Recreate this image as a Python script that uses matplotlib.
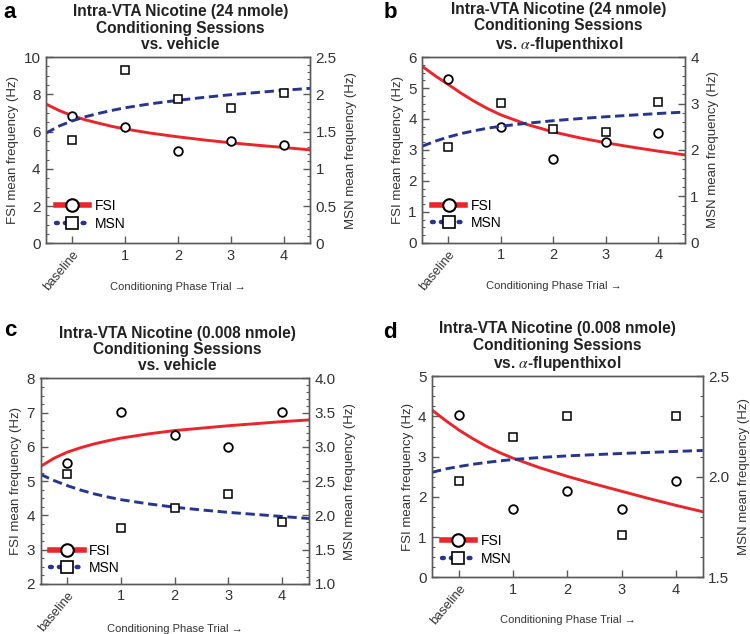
import matplotlib
matplotlib.use("Agg")
import matplotlib.pyplot as plt
from matplotlib.lines import Line2D
from matplotlib.ticker import AutoMinorLocator

plt.rcParams['font.family'] = ['Liberation Sans', 'DejaVu Sans']
plt.rcParams['mathtext.fontset'] = 'stix'

# trial positions and labels
trial_x = [0, 1, 2, 3, 4]
trial_labels = ['baseline', '1', '2', '3', '4']
fit_x = [-0.5, -0.25, 0, 0.25, 0.5, 0.75, 1, 1.5, 2, 2.5, 3, 3.5, 4, 4.5]

# panel a: 24 nmole vs. vehicle
a_fsi = [6.83, 6.27, 4.97, 5.50, 5.28]
a_msn = [1.39, 2.32, 1.94, 1.82, 2.02]
a_fsi_fit = [7.48, 7.13, 6.85, 6.63, 6.45, 6.28, 6.14, 5.91, 5.72, 5.55, 5.40, 5.27, 5.15, 5.02]
a_msn_fit = [1.48, 1.575, 1.645, 1.70, 1.745, 1.785, 1.82, 1.875, 1.92, 1.96, 1.995, 2.025, 2.055, 2.08]

# panel b: 24 nmole vs. alpha-flupenthixol
b_fsi = [5.28, 3.75, 2.71, 3.25, 3.56]
b_msn = [2.06, 3.02, 2.45, 2.39, 3.03]
b_fsi_fit = [5.70, 5.39, 5.11, 4.82, 4.56, 4.33, 4.13, 3.82, 3.58, 3.39, 3.23, 3.09, 2.96, 2.84]
b_msn_fit = [2.08, 2.19, 2.28, 2.355, 2.415, 2.47, 2.51, 2.575, 2.63, 2.675, 2.715, 2.75, 2.785, 2.815]

# panel c: 0.008 nmole vs. vehicle
c_fsi = [5.53, 7.01, 6.36, 5.99, 7.01]
c_msn = [2.61, 1.82, 2.11, 2.31, 1.90]
c_fsi_fit = [5.43, 5.67, 5.85, 5.98, 6.09, 6.18, 6.26, 6.38, 6.48, 6.55, 6.62, 6.68, 6.74, 6.79]
c_msn_fit = [2.60, 2.51, 2.435, 2.37, 2.315, 2.27, 2.23, 2.17, 2.12, 2.08, 2.045, 2.015, 1.985, 1.955]

# panel d: 0.008 nmole vs. alpha-flupenthixol
d_fsi = [4.04, 1.71, 2.15, 1.71, 2.40]
d_msn = [1.98, 2.20, 2.30, 1.71, 2.30]
d_fsi_fit = [4.16, 3.90, 3.66, 3.45, 3.26, 3.10, 2.96, 2.72, 2.51, 2.32, 2.14, 1.96, 1.79, 1.63]
d_msn_fit = [2.022, 2.039, 2.051, 2.062, 2.071, 2.079, 2.086, 2.096, 2.104, 2.110, 2.116, 2.121, 2.126, 2.131]

RED = '#e8262b'
BLUE = '#27358f'
SPINE = '#5a5a5a'
TXT = '#333333'


def draw_panel(rect, letter, letter_xy, title, title_x, fsi, msn, fsi_fit, msn_fit,
               ylim_l, yt_l, ylim_r, yt_r, yt_r_lbl, xlab_y, leg_y):
    ax = fig.add_axes(rect)
    ax2 = ax.twinx()

    ax.plot(fit_x, fsi_fit, color=RED, lw=2.1, zorder=2)
    ax.plot(trial_x, fsi, 'o', ms=6.2, mfc='white', mec='black', mew=1.3, zorder=3)
    ax2.plot(fit_x, msn_fit, color=BLUE, lw=2.1, ls=(0, (3.2, 1.6)), zorder=2)
    ax2.plot(trial_x, msn, 's', ms=6, mfc='white', mec='black', mew=1.1, zorder=3)

    ax.set_xlim(-0.5, 4.5)
    ax.set_ylim(*ylim_l)
    ax.set_yticks(yt_l)
    ax2.set_ylim(*ylim_r)
    ax2.set_yticks(yt_r)
    ax2.set_yticklabels(yt_r_lbl)
    ax.set_xticks(trial_x)
    ax.set_xticklabels(trial_labels)

    ax.yaxis.set_minor_locator(AutoMinorLocator(4))
    ax2.yaxis.set_minor_locator(AutoMinorLocator(5))

    for a in (ax, ax2):
        for s in a.spines.values():
            s.set_color(SPINE)
            s.set_linewidth(1.0)
        a.tick_params(which='major', direction='in', length=5, width=1.0,
                      color=SPINE, labelsize=11, labelcolor=TXT, pad=4)
        a.tick_params(which='minor', direction='in', length=2.5, width=0.8,
                      color=SPINE)
    ax.tick_params(axis='x', pad=4)

    lbls = ax.get_xticklabels()
    lbls[0].set_rotation(50)
    lbls[0].set_ha('right')
    lbls[0].set_va('top')
    lbls[0].set_rotation_mode('anchor')
    lbls[0].set_fontsize(9.3)
    for t in lbls[1:]:
        t.set_fontsize(10.5)

    ax.set_ylabel('FSI mean frequency (Hz)', fontsize=9.5, color=TXT, labelpad=3)
    ax2.set_ylabel('MSN mean frequency (Hz)', fontsize=9.5, color=TXT,
                   rotation=90, labelpad=6)
    ax.set_xlabel('Conditioning Phase Trial →', fontsize=8, color=TXT,
                  family=['Liberation Sans Narrow', 'Liberation Sans', 'DejaVu Sans'])
    ax.xaxis.set_label_coords(0.5, xlab_y)

    ax.set_title(title, x=title_x, fontsize=11.2, fontweight='bold', color='#222222',
                 linespacing=1.1, pad=6)

    handles = [
        Line2D([], [], color=RED, lw=4, marker='o', ms=9, mfc='white',
               mec='black', mew=1.5),
        Line2D([], [], color=BLUE, lw=3.2, ls=(0, (0.4, 1.6)),
               dash_capstyle='round', marker='s', ms=8,
               mfc='white', mec='black', mew=1.2),
    ]
    ax2.legend(handles, ['FSI', 'MSN'], loc='lower left',
               bbox_to_anchor=(0.0, leg_y), frameon=False, fontsize=10,
               handlelength=2.4, handletextpad=0.4, labelspacing=0.25,
               borderaxespad=0.3)

    fig.text(letter_xy[0], letter_xy[1], letter, fontsize=16, fontweight='bold',
             va='center', ha='left')
    return ax, ax2


fig = plt.figure(figsize=(7.5, 6.34), dpi=100)

draw_panel([0.0613, 0.616, 0.352, 0.294], 'a', (0.005, 0.981),
           'Intra-VTA Nicotine (24 nmole)\nConditioning Sessions\nvs. vehicle', 0.51,
           a_fsi, a_msn, a_fsi_fit, a_msn_fit,
           (0, 10), [0, 2, 4, 6, 8, 10],
           (0, 2.5), [0, 0.5, 1, 1.5, 2, 2.5], ['0', '0.5', '1', '1.5', '2', '2.5'],
           -0.205, 0.016)

draw_panel([0.563, 0.617, 0.350, 0.293], 'b', (0.511, 0.981),
           'Intra-VTA Nicotine (24 nmole)\nConditioning Sessions\nvs. $\\alpha$-flupenthixol', 0.52,
           b_fsi, b_msn, b_fsi_fit, b_msn_fit,
           (0, 6), [0, 1, 2, 3, 4, 5, 6],
           (0, 4), [0, 1, 2, 3, 4], ['0', '1', '2', '3', '4'],
           -0.205, 0.016)

draw_panel([0.054, 0.079, 0.358, 0.324], 'c', (0.005, 0.478),
           'Intra-VTA Nicotine (0.008 nmole)\nConditioning Sessions\nvs. vehicle', 0.51,
           c_fsi, c_msn, c_fsi_fit, c_msn_fit,
           (2, 8), [2, 3, 4, 5, 6, 7, 8],
           (1.0, 4.0), [1.0, 1.5, 2.0, 2.5, 3.0, 3.5, 4.0],
           ['1.0', '1.5', '2.0', '2.5', '3.0', '3.5', '4.0'],
           -0.195, -0.005)

draw_panel([0.576, 0.0895, 0.361, 0.317], 'd', (0.511, 0.475),
           'Intra-VTA Nicotine (0.008 nmole)\nConditioning Sessions\nvs. $\\alpha$-flupenthixol', 0.463,
           d_fsi, d_msn, d_fsi_fit, d_msn_fit,
           (0, 5), [0, 1, 2, 3, 4, 5],
           (1.5, 2.5), [1.5, 2.0, 2.5], ['1.5', '2.0', '2.5'],
           -0.19, 0.01)

fig.savefig('out.png', dpi=100)
